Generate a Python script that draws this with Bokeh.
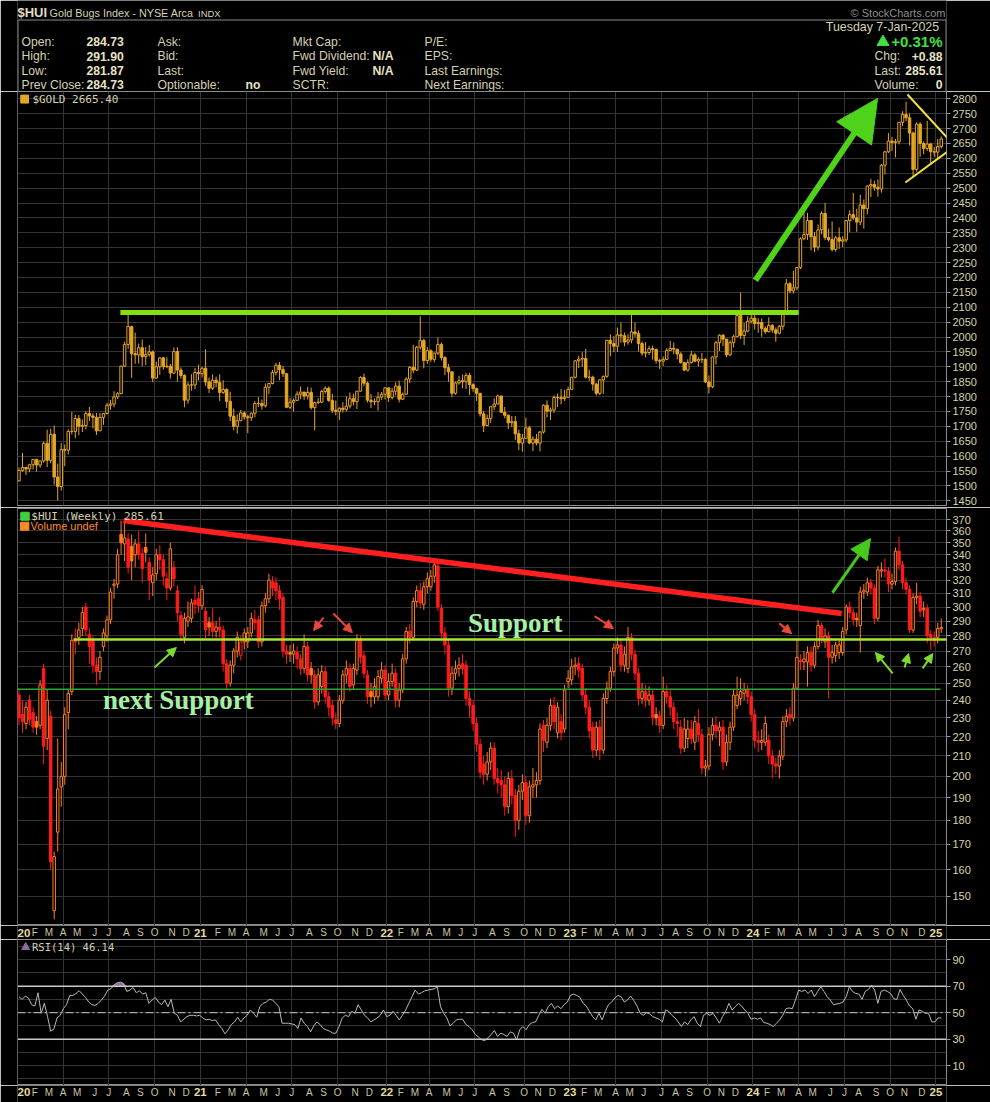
import numpy as np
import pandas as pd
from bokeh.plotting import figure
from bokeh.layouts import column
from bokeh.models import (Range1d, FixedTicker, PrintfTickFormatter, Arrow, NormalHead, Span,
                          LabelSet, ColumnDataSource)
from bokeh.core.properties import value
from bokeh.embed import file_html
from bokeh.resources import INLINE

# ------------------------------------------------------------------ quote header
symbol = "$HUI"
symbol_name = "Gold Bugs Index - NYSE Arca"
exchange = "INDX"
copyright_txt = "\u00a9 StockCharts.com"
info_col1_labels = ["Open:", "High:", "Low:", "Prev Close:"]
info_col1_values = ["284.73", "291.90", "281.87", "284.73"]
info_col2_labels = ["Ask:", "Bid:", "Last:", "Optionable:"]
info_col2_values = ["", "", "", "no"]
info_col3_labels = ["Mkt Cap:", "Fwd Dividend:", "Fwd Yield:", "SCTR:"]
info_col3_values = ["", "N/A", "N/A", ""]
info_col4_labels = ["P/E:", "EPS:", "Last Earnings:", "Next Earnings:"]
date_text = "Tuesday  7-Jan-2025"
pct_change = "+0.31%"
right_labels = ["Chg:", "Last:", "Volume:"]
right_values = ["+0.88", "285.61", "0"]
gold_legend = "$GOLD 2665.40"
hui_legend = "$HUI (Weekly) 285.61"
vol_legend = "Volume undef"
rsi_legend = "RSI(14) 46.14"

# ------------------------------------------------------------------ $GOLD weekly (open = previous close)
gold_first_open = 1517
gold_close = [
    1552, 1562, 1557, 1571, 1589, 1570, 1584, 1643, 1586, 1673, 1530, 1498, 1622, 1620, 1683, 1683, 1726, 1700, 1703, 1743, 1735, 1730, 1685, 1730, 1743, 1771, 1775, 1799, 1810, 1902, 1975, 2035, 1944, 1940, 1964, 1934, 1941, 1950, 1862, 1900, 1930, 1900, 1902, 1879, 1951, 1889, 1871, 1788, 1839, 1839, 1881, 1877,
    1895, 1849, 1828, 1855, 1847, 1814, 1824, 1784, 1734, 1700, 1719, 1745, 1732, 1729, 1744, 1777, 1777, 1769, 1831, 1844, 1881, 1905, 1891, 1877, 1764, 1781, 1787, 1808, 1815, 1802, 1814, 1763, 1780, 1781, 1817, 1828, 1787, 1754, 1750, 1761, 1757, 1768, 1793, 1783, 1818, 1864, 1845, 1788, 1783, 1783, 1798, 1808, 1829,
    1797, 1818, 1835, 1791, 1808, 1859, 1898, 1889, 1966, 1988, 1921, 1954, 1925, 1946, 1975, 1931, 1897, 1883, 1811, 1846, 1853, 1850, 1871, 1840, 1827, 1811, 1742, 1703, 1727, 1766, 1775, 1802, 1747, 1737, 1712, 1716, 1675, 1644, 1660, 1695, 1644, 1657, 1644, 1681, 1771, 1751, 1755, 1797, 1797, 1793, 1798, 1824,
    1865, 1920, 1926, 1928, 1865, 1865, 1842, 1811, 1856, 1868, 1989, 1978, 1969, 2007, 2004, 1983, 1990, 2017, 2011, 1978, 1946, 1948, 1961, 1958, 1921, 1919, 1925, 1955, 1962, 1959, 1943, 1914, 1889, 1914, 1940, 1919, 1924, 1925, 1849, 1833, 1933, 1981, 2006, 1993, 1940, 1981, 2001, 2072, 2005, 2020, 2053, 2063,
    2045, 2049, 2029, 2018, 2039, 2024, 2013, 2036, 2083, 2179, 2155, 2165, 2233, 2330, 2344, 2391, 2337, 2302, 2360, 2415, 2334, 2327, 2294, 2333, 2322, 2326, 2391, 2411, 2400, 2386, 2443, 2431, 2507, 2512, 2503, 2497, 2577, 2622, 2658, 2653, 2656, 2721, 2747, 2736, 2685, 2563, 2715, 2650, 2633, 2648, 2622, 2621,
    2640, 2665.4,
]
gold_high = [
    1562, 1611, 1564, 1574, 1590, 1591, 1584, 1649, 1689, 1692, 1703, 1575, 1644, 1639, 1690, 1748, 1739, 1738, 1723, 1751, 1765, 1744, 1745, 1745, 1745, 1779, 1789, 1818, 1815, 1904, 1984, 2075, 2038, 2015, 1978, 1992, 1966, 1973, 1955, 1917, 1932, 1933, 1932, 1910, 1965, 1966, 1898, 1875, 1848, 1875, 1896, 1907,
    1900, 1959, 1864, 1875, 1867, 1875, 1855, 1828, 1816, 1760, 1740, 1755, 1750, 1739, 1746, 1784, 1798, 1790, 1844, 1845, 1890, 1913, 1916, 1903, 1878, 1795, 1794, 1818, 1834, 1815, 1832, 1830, 1783, 1795, 1823, 1834, 1834, 1809, 1787, 1764, 1781, 1800, 1814, 1810, 1818, 1868, 1877, 1850, 1809, 1794, 1815, 1815, 1831,
    1831, 1829, 1848, 1853, 1814, 1865, 1902, 1974, 1970, 2070, 1994, 1966, 1958, 1948, 1998, 1982, 1936, 1910, 1885, 1850, 1870, 1874, 1879, 1880, 1845, 1830, 1812, 1752, 1739, 1767, 1794, 1807, 1802, 1765, 1740, 1735, 1735, 1689, 1675, 1729, 1701, 1667, 1675, 1684, 1774, 1787, 1763, 1804, 1810, 1825, 1823, 1833,
    1865, 1923, 1937, 1949, 1960, 1890, 1870, 1846, 1858, 1870, 1990, 2009, 2003, 2032, 2049, 2015, 2009, 2079, 2049, 2022, 1985, 1983, 1971, 1971, 1962, 1927, 1935, 1963, 1987, 1982, 1960, 1949, 1917, 1925, 1953, 1947, 1932, 1947, 1929, 1871, 1935, 1987, 2009, 2010, 1993, 1988, 2008, 2075, 2150, 2047, 2070, 2088,
    2078, 2063, 2062, 2036, 2066, 2044, 2032, 2041, 2088, 2195, 2185, 2223, 2236, 2335, 2431, 2417, 2392, 2353, 2378, 2422, 2450, 2364, 2388, 2340, 2368, 2339, 2392, 2425, 2484, 2431, 2478, 2462, 2509, 2531, 2525, 2529, 2581, 2625, 2685, 2672, 2665, 2722, 2758, 2790, 2750, 2690, 2721, 2721, 2657, 2726, 2652, 2638,
    2665, 2674,
]
gold_low = [
    1515, 1547, 1536, 1546, 1555, 1548, 1561, 1578, 1563, 1576, 1504, 1451, 1484, 1566, 1606, 1673, 1660, 1670, 1681, 1690, 1718, 1693, 1671, 1693, 1705, 1740, 1756, 1764, 1792, 1808, 1900, 1960, 1863, 1910, 1911, 1902, 1906, 1934, 1848, 1860, 1873, 1890, 1895, 1860, 1876, 1850, 1860, 1764, 1776, 1820, 1825, 1854,
    1864, 1836, 1812, 1822, 1831, 1785, 1809, 1762, 1718, 1687, 1676, 1717, 1722, 1677, 1718, 1730, 1765, 1756, 1763, 1808, 1841, 1871, 1855, 1866, 1761, 1758, 1750, 1786, 1791, 1789, 1790, 1756, 1687, 1775, 1779, 1810, 1782, 1745, 1737, 1721, 1746, 1750, 1760, 1770, 1758, 1818, 1835, 1780, 1761, 1771, 1753, 1789, 1790,
    1782, 1790, 1804, 1780, 1788, 1807, 1845, 1878, 1886, 1958, 1895, 1910, 1917, 1915, 1940, 1921, 1872, 1850, 1798, 1806, 1840, 1828, 1825, 1805, 1816, 1785, 1733, 1681, 1702, 1711, 1755, 1773, 1745, 1727, 1691, 1697, 1654, 1620, 1615, 1660, 1640, 1617, 1636, 1616, 1676, 1730, 1721, 1745, 1765, 1774, 1785, 1795,
    1824, 1861, 1896, 1900, 1861, 1853, 1820, 1804, 1805, 1809, 1863, 1935, 1949, 1950, 1981, 1969, 1974, 1979, 2000, 1951, 1937, 1932, 1940, 1924, 1911, 1893, 1903, 1922, 1953, 1942, 1925, 1911, 1885, 1884, 1911, 1915, 1901, 1912, 1846, 1810, 1828, 1908, 1953, 1970, 1932, 1936, 1965, 2000, 1993, 1973, 2016, 2045,
    2025, 2014, 2001, 2010, 2016, 2014, 1984, 2009, 2024, 2078, 2146, 2146, 2157, 2228, 2325, 2326, 2291, 2285, 2291, 2345, 2325, 2320, 2287, 2287, 2296, 2302, 2318, 2352, 2393, 2353, 2376, 2364, 2412, 2470, 2491, 2471, 2485, 2546, 2618, 2625, 2603, 2647, 2708, 2725, 2643, 2537, 2555, 2605, 2614, 2625, 2583, 2605,
    2596, 2633,
]

# ------------------------------------------------------------------ $HUI weekly OHLC
hui_open = [
    243, 232, 227, 240, 233, 228, 226, 259, 219, 231, 145, 175, 195, 200, 233, 245, 278, 279, 285, 300,
    281, 277, 261, 257, 273, 280, 291, 316, 317, 357, 349, 353, 347, 340, 349, 341, 346, 334, 318, 325,
    340, 336, 321, 314, 330, 312, 294, 279, 290, 292, 305, 306, 301, 297, 289, 289, 283, 286, 284, 262,
    250, 261, 270, 267, 276, 276, 282, 291, 291, 276, 301, 306, 319, 318, 312, 307, 270, 269, 268, 269,
    265, 259, 273, 259, 255, 239, 248, 257, 242, 237, 229, 227, 240, 255, 259, 249, 258, 278, 267, 255,
    245, 242, 242, 253, 258, 243, 251, 256, 240, 246, 265, 283, 279, 304, 312, 302, 315, 315, 323, 331,
    299, 282, 274, 247, 256, 259, 262, 261, 241, 237, 227, 216, 206, 201, 207, 214, 199, 198, 196, 186,
    199, 191, 180, 193, 197, 182, 195, 196, 198, 226, 217, 226, 237, 222, 228, 224, 251, 252, 260, 262,
    259, 243, 236, 225, 213, 225, 213, 241, 247, 257, 272, 274, 261, 259, 279, 268, 256, 241, 245, 240,
    243, 232, 231, 226, 245, 242, 236, 228, 225, 214, 219, 224, 217, 227, 221, 204, 205, 221, 226, 223,
    225, 207, 217, 225, 237, 241, 244, 246, 242, 232, 218, 217, 217, 218, 210, 206, 205, 210, 228, 232,
    230, 247, 264, 263, 263, 269, 261, 273, 287, 276, 280, 266, 267, 269, 269, 284, 300, 296, 292, 287,
    311, 311, 318, 314, 292, 327, 328, 327, 317, 319, 343, 332, 318, 313, 284, 307, 308, 298, 299, 281,
    279, 279, 284.73,
]
hui_close = [
    230, 228, 236, 229, 225, 225, 249, 215, 240, 163, 165, 194, 200, 232, 244, 277, 276, 284, 296, 284,
    273, 261, 257, 266, 282, 291, 311, 317, 340, 350, 354, 330, 335, 349, 340, 329, 342, 320, 324, 340,
    336, 323, 314, 345, 321, 296, 281, 292, 293, 303, 302, 301, 313, 284, 286, 283, 286, 284, 262, 250,
    261, 270, 279, 276, 282, 282, 292, 289, 276, 301, 306, 320, 314, 312, 306, 270, 268, 268, 270, 265,
    259, 273, 255, 255, 239, 255, 257, 242, 236, 230, 227, 240, 255, 259, 248, 259, 278, 266, 256, 242,
    242, 248, 254, 258, 243, 251, 256, 240, 246, 265, 283, 279, 304, 312, 303, 315, 321, 323, 332, 300,
    282, 274, 247, 256, 259, 261, 259, 241, 237, 227, 216, 202, 201, 207, 214, 199, 197, 196, 186, 199,
    191, 180, 193, 197, 182, 195, 196, 198, 224, 218, 226, 237, 228, 236, 222, 246, 253, 260, 261, 258,
    243, 236, 223, 213, 225, 213, 241, 247, 257, 272, 274, 261, 268, 279, 268, 256, 241, 245, 240, 243,
    230, 230, 226, 245, 242, 236, 228, 227, 214, 224, 224, 219, 228, 221, 204, 205, 221, 226, 223, 225,
    207, 217, 225, 243, 243, 245, 246, 242, 232, 218, 217, 218, 227, 210, 206, 205, 210, 228, 231, 230,
    247, 266, 263, 265, 269, 261, 273, 287, 279, 280, 266, 269, 274, 274, 283, 300, 296, 291, 291, 311,
    312, 318, 314, 292, 328, 328, 327, 317, 319, 343, 332, 318, 313, 284, 307, 308, 297, 299, 280, 279,
    277, 285, 285.61,
]
hui_high = [
    247, 240, 239, 243, 236, 231, 252, 262, 246, 234, 167, 219, 207, 236, 246, 281, 285, 289, 300, 303,
    285, 280, 266, 270, 285, 294, 314, 321, 345, 369, 367, 358, 357, 353, 360, 346, 358, 338, 330, 345,
    348, 340, 326, 350, 335, 316, 297, 296, 304, 306, 316, 311, 316, 300, 293, 299, 290, 293, 287, 265,
    264, 272, 283, 280, 285, 286, 296, 298, 294, 304, 310, 325, 323, 322, 316, 310, 274, 274, 275, 273,
    268, 281, 276, 263, 258, 259, 261, 260, 245, 240, 233, 243, 258, 264, 262, 262, 281, 280, 270, 258,
    250, 253, 258, 263, 261, 256, 262, 259, 250, 268, 286, 288, 307, 316, 318, 319, 326, 328, 337, 336,
    302, 286, 277, 260, 264, 266, 268, 264, 245, 240, 230, 219, 210, 212, 217, 217, 204, 203, 200, 202,
    203, 194, 196, 201, 200, 198, 204, 202, 227, 229, 230, 241, 242, 239, 232, 249, 258, 265, 266, 266,
    262, 247, 240, 228, 228, 229, 244, 251, 260, 275, 279, 277, 273, 286, 282, 271, 259, 250, 249, 248,
    246, 236, 234, 254, 249, 246, 239, 233, 229, 230, 229, 229, 231, 235, 224, 208, 225, 230, 231, 228,
    229, 221, 228, 246, 254, 253, 250, 249, 245, 235, 223, 224, 231, 221, 213, 209, 213, 231, 235, 236,
    250, 278, 268, 270, 273, 273, 276, 291, 289, 285, 283, 274, 276, 277, 286, 302, 304, 299, 296, 315,
    317, 322, 321, 317, 331, 334, 337, 330, 325, 346, 355, 335, 322, 316, 310, 318, 311, 304, 302, 284,
    283, 289, 291.90,
]
hui_low = [
    226, 222, 224, 226, 222, 221, 224, 206, 213, 160, 142, 167, 186, 196, 224, 243, 268, 274, 280, 280,
    262, 256, 249, 252, 270, 276, 288, 306, 314, 340, 335, 325, 320, 330, 336, 318, 334, 305, 308, 320,
    328, 316, 305, 312, 315, 290, 277, 275, 286, 289, 295, 296, 298, 278, 280, 279, 279, 279, 257, 246,
    248, 256, 266, 264, 271, 272, 279, 284, 272, 273, 296, 303, 308, 305, 298, 266, 262, 263, 262, 259,
    255, 256, 251, 250, 235, 237, 244, 238, 231, 226, 224, 225, 238, 250, 245, 246, 255, 262, 253, 238,
    236, 238, 240, 250, 240, 240, 248, 236, 236, 244, 262, 275, 277, 300, 299, 298, 310, 312, 318, 297,
    278, 268, 242, 243, 252, 254, 255, 237, 230, 223, 212, 199, 196, 198, 203, 196, 192, 190, 182, 183,
    187, 173, 176, 189, 178, 179, 190, 190, 196, 212, 214, 223, 224, 219, 218, 222, 247, 249, 255, 253,
    240, 232, 219, 209, 210, 208, 211, 238, 245, 254, 268, 257, 257, 256, 264, 252, 237, 238, 236, 237,
    226, 226, 222, 224, 238, 231, 224, 220, 211, 212, 214, 216, 213, 217, 201, 200, 203, 218, 219, 215,
    203, 205, 213, 223, 235, 237, 240, 238, 228, 214, 212, 213, 215, 206, 199, 201, 199, 208, 225, 226,
    228, 246, 258, 258, 248, 257, 259, 271, 275, 272, 241, 262, 263, 265, 267, 281, 292, 287, 286, 269,
    306, 308, 309, 288, 290, 322, 322, 311, 313, 316, 328, 313, 309, 282, 282, 302, 293, 293, 275, 271,
    273, 275, 281.87,
]

# ------------------------------------------------------------------ RSI(14), read at regular steps across the panel
rsi_values = [
    62, 60, 62.5, 61, 56, 55, 65, 49.5, 57, 47, 36, 37.5, 46, 48, 53, 56, 63, 63, 64.5, 66.5, 64, 61.5, 58, 56, 55.5, 57, 59.5,
    62.5, 67, 68, 71, 72.5, 73, 72, 66, 67, 69, 65, 66.5, 64, 65, 57, 59.5, 61.5, 58, 56, 59.5, 54.5, 60, 49.5, 48, 43, 45, 47,
    48, 48, 47.5, 48, 46, 44.5, 45, 44, 44.5, 41, 38, 34, 37, 41, 43, 46.5, 43, 46, 48, 52, 49.5, 46.5, 54.5, 57, 58, 60, 59.5,
    57, 54.5, 42, 42, 42, 41.5, 41, 38, 46, 42, 39.5, 35.5, 40, 43, 41, 38, 37, 36, 34.5, 34.5, 39.5, 46, 48, 47, 51, 49.5, 56,
    52, 48, 46, 43, 44.5, 46, 48, 52, 47, 48, 51, 48, 44.5, 48, 52, 57, 62, 67, 64, 65, 66.5, 67, 67.5, 68, 69.5, 54.5, 49.5, 46,
    40, 42, 44.5, 45, 45, 41, 39.5, 37, 33.5, 31.5, 29.5, 29, 31, 33.5, 36.5, 32, 34.5, 33.5, 32, 35.5, 34.5, 29.5, 37, 39.5, 37,
    41, 42.5, 43, 48, 52.5, 49.5, 54.5, 57, 53, 55, 53, 56, 58, 63, 64, 63, 61.5, 57, 55, 51, 47, 44.5, 49.5, 44.5, 51, 56, 58,
    61, 63, 62, 58, 59.5, 62.5, 59, 55, 49.5, 48, 50, 49, 47, 46, 45, 43, 52, 51, 48, 46, 43, 39.5, 43, 41, 44.5, 47, 42, 39.5,
    48, 49.5, 48, 49.5, 46, 42, 47, 51, 57, 52, 54.5, 57, 55, 52, 49.5, 45, 46, 45, 46, 42.5, 42, 41, 39.5, 42, 44.5, 48, 53,
    53.5, 53, 59.5, 67, 66, 67, 64.5, 67, 62, 66, 69.5, 66, 62, 59.5, 56, 56.5, 57, 58, 62, 69.5, 66, 64.5, 64, 60, 66, 67.5,
    70.5, 67, 57, 66, 67, 66, 64.5, 60.5, 60, 67.5, 63, 59.5, 55, 53, 45, 52, 51, 49.5, 49.5, 43, 43, 46, 46,
]

# ------------------------------------------------------------------ axis ticks / labels
gold_ticks = list(range(1450, 2801, 50))
hui_ticks = list(range(150, 371, 10))
rsi_ticks = [10, 30, 50, 70, 90]
rsi_grid = list(range(0, 101, 10))
month_letters = ["J", "F", "M", "A", "M", "J", "J", "A", "S", "O", "N", "D"]

# ------------------------------------------------------------------ drawn annotations (week index, price)
gold_resist_x = [28.8, 221.5]
gold_resist_level = 2082
gold_arrow = [209.2, 2190, 243.9, 2801]
gold_tri_upper = ([252.4, 265.2], [2814.4, 2649.8])
gold_tri_lower = ([251.8, 264.6], [2518.8, 2629.7])
hui_trend = ([29.7, 233.7], [369.1, 295.4])
hui_support_level = 277.6
hui_support_x = [15.5, 264.0]
hui_next_support_level = 246.4
hui_next_support_x = [-1.0, 261.8]
hui_big_arrow = [231.1, 310.6, 241.9, 353.5]
hui_green_arrows = [(38.5, 259.6, 44.7, 272.3), (248.2, 255.9, 243.3, 269.1),
                    (251.6, 259.6, 252.7, 268.4), (256.7, 259.0, 259.6, 268.4)]
hui_red_arrows = [(86.5, 292.6, 83.7, 283.6), (89.3, 295.4, 94.7, 282.2),
                  (163.5, 293.5, 168.9, 285.0), (216.0, 288.5, 219.5, 281.5)]
support_label = ("Support", 141.0, 288.5)
next_support_label = ("next Support", 45.3, 240.4)

# ------------------------------------------------------------------ checks
n = len(gold_close)
for arr in (gold_high, gold_low, hui_open, hui_close, hui_high, hui_low):
    assert len(arr) == n, len(arr)
idx = np.arange(n)

# bar dates -> month tick positions
bar_dates = list(pd.date_range("2020-01-03", periods=n - 1, freq="W-FRI")) + [pd.Timestamp("2025-01-07")]
month_starts = list(pd.date_range("2020-01-01", "2025-01-01", freq="MS"))
month_pos, month_txt, month_year = [], [], []
for ms in month_starts:
    i = next(k for k, d in enumerate(bar_dates) if d >= ms)
    month_pos.append(i - 0.5)
    month_year.append(ms.month == 1)
    month_txt.append(f"{ms.year % 100:02d}" if ms.month == 1 else month_letters[ms.month - 1])
quarter_pos = [p for p, ms in zip(month_pos, month_starts) if ms.month in (1, 4, 7, 10)]

# ------------------------------------------------------------------ styling constants
BG = "#000000"
GRID = "#343434"
FRAME = "#8c8c8c"
TXT = "#d5d1b1"
AXT = "#d8d4a8"
GOLD_C = "#e3a626"
HUI_UP = "#ff7d1e"
HUI_DN = "#ff1c1c"
W = 990
LB, RB = 17, 44
X0, X1 = -0.426, 263.49
xr = Range1d(X0, X1)
SANS = value("Liberation Sans")
MONO = value("DejaVu Sans Mono")
SERIF = value("Liberation Serif")


def base_fig(height, x_range, y_range, y_type="linear", top=0, bottom=0, axis=True):
    return figure(width=W, height=height, x_range=x_range, y_range=y_range, y_axis_type=y_type,
                  x_axis_location=None, y_axis_location="right" if axis else None,
                  toolbar_location=None, output_backend="svg", title=None,
                  min_border_left=LB, min_border_right=RB, min_border_top=top,
                  min_border_bottom=bottom, background_fill_color=BG, border_fill_color=BG,
                  outline_line_color=FRAME if axis else None, outline_line_width=1)


def panel(height, y_range, y_type="linear", top=0, bottom=0):
    p = base_fig(height, xr, y_range, y_type, top, bottom)
    p.xgrid.ticker = FixedTicker(ticks=quarter_pos)
    p.grid.grid_line_color = GRID
    p.grid.grid_line_width = 1
    return p


def right_axis(p, ticks, fmt="%d"):
    ax = p.yaxis[0]
    ax.ticker = FixedTicker(ticks=ticks)
    ax.formatter = PrintfTickFormatter(format=fmt)
    ax.major_label_text_color = AXT
    ax.major_label_text_font = "Liberation Sans"
    ax.major_label_text_font_size = "11px"
    ax.axis_line_color = None
    ax.major_tick_line_color = "#9a9a9a"
    ax.major_tick_out = 4
    ax.major_tick_in = 0
    ax.minor_tick_line_color = None
    ax.major_label_standoff = 2


def candles(p, o, h, l, c, up_col, dn_col, by_prev):
    o, h, l, c = (np.asarray(a, dtype=float) for a in (o, h, l, c))
    prev = np.concatenate([[o[0]], c[:-1]])
    if by_prev:
        col = [dn_col if c[i] < prev[i] else up_col for i in range(len(c))]
    else:
        col = [up_col] * len(c)
    fill = [col[i] if c[i] < o[i] else BG for i in range(len(c))]
    p.segment(x0=idx, y0=l, x1=idx, y1=h, line_color=col, line_width=1)
    p.vbar(x=idx, width=0.7, top=np.maximum(o, c), bottom=np.minimum(o, c),
           fill_color=fill, line_color=col, line_width=1)


# ------------------------------------------------------------------ header (page pixel coordinates)
hdr = base_fig(91, Range1d(17, 946), Range1d(91, 0), axis=False)
hdr.grid.visible = False
hdr.quad(left=[17.5], right=[945.5], top=[19.5], bottom=[91], fill_alpha=0, line_color=FRAME, line_width=1)
hdr.text(x=[17], y=[12], text=[symbol], text_font=SANS, text_font_style="bold",
         text_font_size="13px", text_color="#e2dec0", text_baseline="middle")
hdr.text(x=[49], y=[12], text=[symbol_name], text_font=SANS, text_font_size="10.8px",
         text_color=TXT, text_baseline="middle")
hdr.text(x=[197.5], y=[12.5], text=[exchange], text_font=SANS, text_font_size="9.5px",
         text_color=TXT, text_baseline="middle")
hdr.text(x=[945], y=[12], text=[copyright_txt], text_font=SANS, text_font_size="11px",
         text_color="#8e8e8e", text_baseline="middle", text_align="right")
rows_y = [41, 55.7, 70, 84.3]
for xs, labels, bold in ((21, info_col1_labels, False), (86, info_col1_values, True),
                         (157, info_col2_labels, False), (245, info_col2_values, True),
                         (292, info_col3_labels, False), (372, info_col3_values, True),
                         (424, info_col4_labels, False)):
    hdr.text(x=[xs] * 4, y=rows_y, text=labels, text_font=SANS,
             text_font_style="bold" if bold else "normal", text_font_size="12.2px",
             text_color="#e6e2c4" if bold else TXT, text_baseline="middle")
hdr.text(x=[942], y=[26.7], text=[date_text], text_font=SANS, text_font_size="12.4px",
         text_color=TXT, text_baseline="middle", text_align="right")
hdr.text(x=[942], y=[41], text=[pct_change], text_font=SANS, text_font_style="bold",
         text_font_size="15px", text_color="#3fe03f", text_baseline="middle", text_align="right")
hdr.triangle(x=[882.5], y=[41.5], size=12, fill_color="#3fe03f", line_color="#3fe03f")
hdr.text(x=[874] * 3, y=rows_y[1:], text=right_labels, text_font=SANS, text_font_size="12.2px",
         text_color=TXT, text_baseline="middle")
hdr.text(x=[942] * 3, y=rows_y[1:], text=right_values, text_font=SANS, text_font_style="bold",
         text_font_size="12.2px", text_color="#e6e2c4", text_baseline="middle", text_align="right")

# ------------------------------------------------------------------ gold panel
pg = panel(416, Range1d(1434.2, 2824.5), top=0, bottom=2)
pg.ygrid.ticker = FixedTicker(ticks=gold_ticks)
right_axis(pg, gold_ticks)
gold_open = [gold_first_open] + gold_close[:-1]
candles(pg, gold_open, gold_high, gold_low, gold_close, GOLD_C, GOLD_C, False)
pg.line(x=gold_resist_x, y=[gold_resist_level] * 2, line_width=5, line_color="#84e010")
gx0, gy0, gx1, gy1 = gold_arrow
pg.line(x=[gx0, gx0 + 0.88 * (gx1 - gx0)], y=[gy0, gy0 + 0.88 * (gy1 - gy0)],
        line_width=6, line_color="#4fd21a")
pg.add_layout(Arrow(end=NormalHead(size=42, fill_color="#4fd21a", line_color="#4fd21a"),
                    x_start=gx0 + 0.8 * (gx1 - gx0), y_start=gy0 + 0.8 * (gy1 - gy0),
                    x_end=gx1, y_end=gy1, line_alpha=0, line_width=1))
pg.line(x=gold_tri_upper[0], y=gold_tri_upper[1], line_width=2, line_color="#f2e13c")
pg.line(x=gold_tri_lower[0], y=gold_tri_lower[1], line_width=2, line_color="#f2e13c")
pg.text(x=[3.8], y=[2799], text=[gold_legend], text_font=MONO,
        text_font_size="11px", text_color=TXT, text_baseline="middle")
pg.rect(x=[1.6], y=[2799], width=2.2, height=8, height_units="screen", fill_color=GOLD_C, line_color=GOLD_C)

# ------------------------------------------------------------------ HUI panel
ph = panel(418, Range1d(139.92, 379.88), "log", top=1, bottom=0)
ph.ygrid.ticker = FixedTicker(ticks=hui_ticks)
right_axis(ph, hui_ticks)
candles(ph, hui_open, hui_high, hui_low, hui_close, HUI_UP, HUI_DN, True)
ph.line(x=hui_next_support_x, y=[hui_next_support_level] * 2, line_width=1.5, line_color="#2fa52f")
ph.line(x=hui_support_x, y=[hui_support_level] * 2, line_width=2.5, line_color="#a6e62e")
ph.line(x=hui_trend[0], y=hui_trend[1], line_width=5.5, line_color="#ff1f1f")
bx0, by0, bx1, by1 = hui_big_arrow
ph.add_layout(Arrow(end=NormalHead(size=20, fill_color="#46c81c", line_color="#46c81c"),
                    x_start=bx0, y_start=by0, x_end=bx1, y_end=by1,
                    line_color="#46c81c", line_width=3))
for (ax0, ay0, ax1, ay1) in hui_green_arrows:
    ph.add_layout(Arrow(end=NormalHead(size=9, fill_color="#7ddc2c", line_color="#7ddc2c"),
                        x_start=ax0, y_start=ay0, x_end=ax1, y_end=ay1,
                        line_color="#7ddc2c", line_width=2))
for (ax0, ay0, ax1, ay1) in hui_red_arrows:
    ph.add_layout(Arrow(end=NormalHead(size=9, fill_color="#e8483a", line_color="#e8483a"),
                        x_start=ax0, y_start=ay0, x_end=ax1, y_end=ay1,
                        line_color="#e8483a", line_width=2))
for (t, tx, ty) in (support_label, next_support_label):
    ph.text(x=[tx], y=[ty], text=[t], text_font=SERIF, text_font_style="bold",
            text_font_size="27px", text_color="#a6f0a6", text_baseline="middle", text_align="center")
ph.text(x=[3.5], y=[372.9], text=[hui_legend], text_font=MONO,
        text_font_size="11px", text_color=TXT, text_baseline="middle")
ph.text(x=[3.3], y=[364.1], text=[vol_legend], text_font=SANS,
        text_font_size="11px", text_color="#ff8a2a", text_baseline="middle")
ph.rect(x=[1.7], y=[372.9], width=2.4, height=8, height_units="screen", fill_color="#3fd23f", line_color="#3fd23f")
ph.rect(x=[1.6], y=[364.1], width=2.4, height=8, height_units="screen", fill_color="#ff8a2a", line_color="#ff8a2a")


# ------------------------------------------------------------------ date strips
def date_strip(height, ylab):
    s = base_fig(height, xr, Range1d(0, 1), axis=False)
    s.grid.visible = False
    for want_year in (True, False):
        xs, ts, aligns = [], [], []
        for m, t, y in zip(month_pos, month_txt, month_year):
            if y != want_year:
                continue
            if m < X0 + 1.6:          # first label sits on the frame edge
                xs.append(X0)
                aligns.append("left")
            else:
                xs.append(m)
                aligns.append("center")
            ts.append(t)
        s.add_layout(LabelSet(x="x", y="y", text="t", text_align="align",
                              source=ColumnDataSource(dict(x=xs, y=[ylab] * len(xs), t=ts, align=aligns)),
                              text_font=SANS, text_font_style="bold" if want_year else "normal",
                              text_font_size="11.5px" if want_year else "10px",
                              text_color="#e4dca0" if want_year else "#c9c4a6",
                              text_baseline="middle"))
    return s


strip1 = date_strip(14, 0.5)
strip2 = date_strip(17, 0.6)

# ------------------------------------------------------------------ RSI panel
pr = panel(146, Range1d(-5, 105.2), top=0, bottom=0)
pr.ygrid.ticker = FixedTicker(ticks=rsi_grid)
right_axis(pr, rsi_ticks)
rsi = np.asarray(rsi_values, dtype=float)
rsi_x = np.linspace(0, n - 1, len(rsi))
pr.varea(x=rsi_x, y1=np.full(len(rsi), 70.0), y2=np.maximum(rsi, 70), fill_color="#8a6c9c")
pr.varea(x=rsi_x, y1=np.minimum(rsi, 30), y2=np.full(len(rsi), 30.0), fill_color="#5a6e9c")
pr.add_layout(Span(location=70, dimension="width", line_color="#c8c8c8", line_width=1.5))
pr.add_layout(Span(location=30, dimension="width", line_color="#c8c8c8", line_width=1.5))
pr.add_layout(Span(location=50, dimension="width", line_color="#a8a8a8", line_width=1.2,
                   line_dash="8 3 2 3"))
pr.line(x=rsi_x, y=rsi, line_color="#b8b8b8", line_width=1)
pr.text(x=[3.7], y=[99.4], text=[rsi_legend], text_font=MONO,
        text_font_size="10.5px", text_color=TXT, text_baseline="middle")
pr.triangle(x=[1.9], y=[99.4], size=8, fill_color="#8a6c9c", line_color="#8a6c9c")

layout = column(hdr, pg, ph, strip1, pr, strip2, spacing=0)
open("out.html", "w").write(file_html(layout, INLINE))
